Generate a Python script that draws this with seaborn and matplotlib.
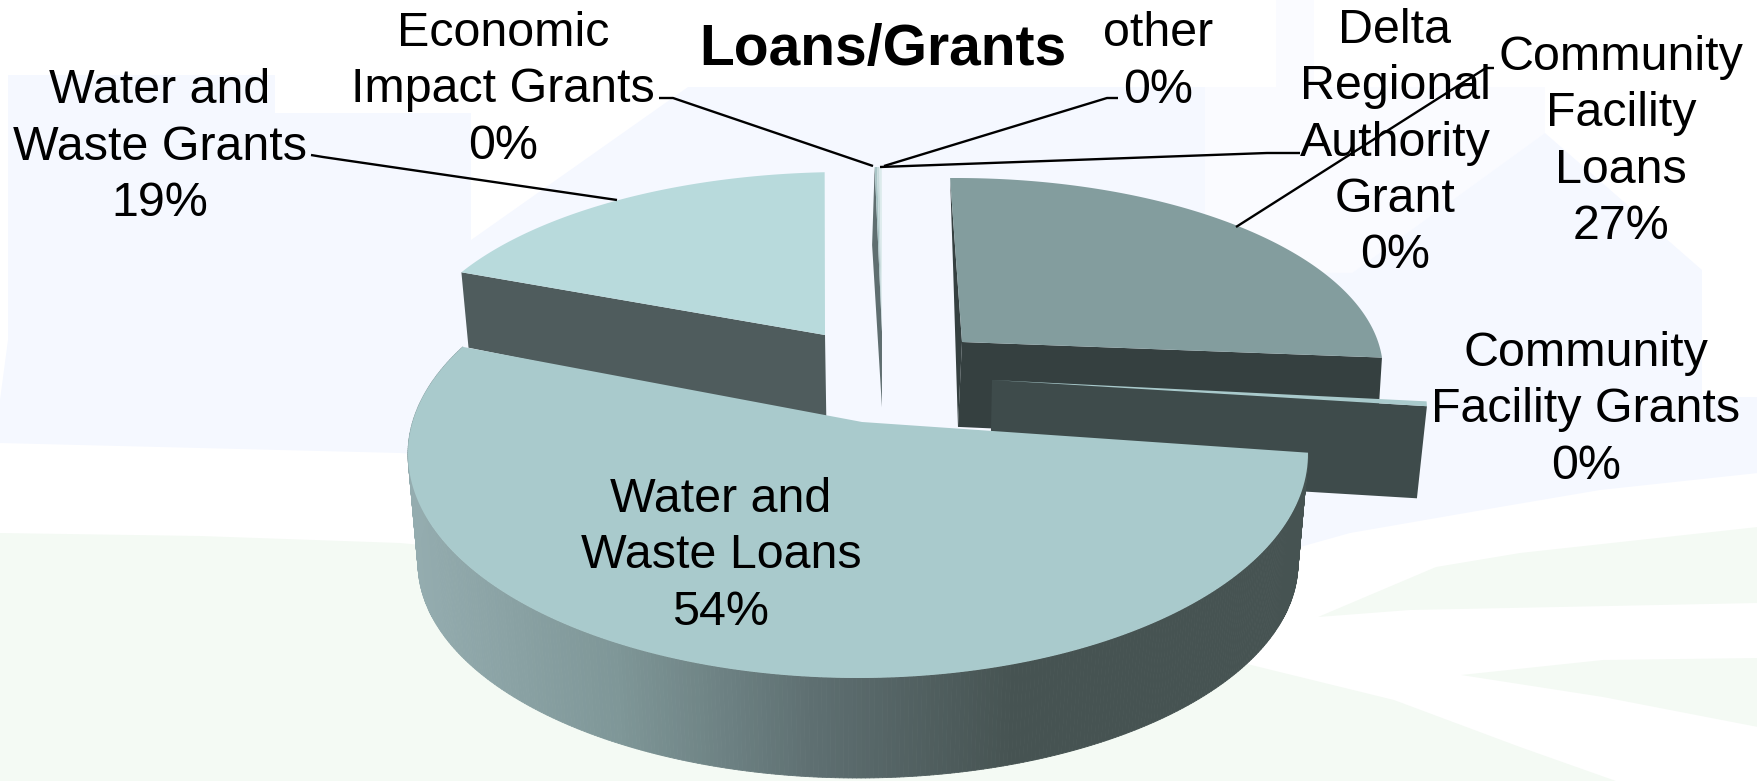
import numpy as np
import matplotlib
matplotlib.use("Agg")
import matplotlib.pyplot as plt
from matplotlib.collections import PolyCollection
import seaborn as sns

# ---- data (clockwise from 12 o'clock) ----
categories = ["Community\nFacility\nLoans", "Community\nFacility Grants", "Water and\nWaste Loans",
              "Water and\nWaste Grants", "Economic\nImpact Grants", "other", "Delta\nRegional\nAuthority\nGrant"]
values = [26.8, 0.4, 53.6, 18.9, 0.1, 0.1, 0.1]
title = "Loans/Grants"

# ---- layout / style ----
label_pos = [(1621, 142), (1586, 410), (721, 556), (160, 147), (503, 90), (1158, 62), (1395, 143)]
leaders = [
    [(1494, 68), (1486, 68), (1236, 227)],
    None,
    None,
    [(311, 155), (323, 157), (617, 200)],
    [(659, 98), (673, 98), (873, 166)],
    [(1118, 98), (1107, 98), (884, 166)],
    [(1300, 153), (1267, 153), (880, 167)],
]
# top ellipse (cx, cy, a, b), apex, lower ellipse, rotation of each
geom = {
    0: dict(top=(956, 371, 427, 193), apex=(962, 342), low=(952, 455, 425, 187), rot=-1.8, rot2=-0.7),
    1: dict(top=(997, 410, 430, 190), apex=(992, 380), low=(995, 502, 422, 186), rot=0, rot2=0),
    2: dict(top=(858, 454, 450, 224), apex=(862, 422), low=(858, 563, 440, 215), rot=0, rot2=0),
    3: dict(top=(846, 367, 440, 195), apex=(825, 335), low=(847, 457, 433, 225), rot=0.8, rot2=0.8),
    4: dict(top=(878, 357, 430, 190), apex=(882, 332), low=(878, 432, 425, 187), rot=0, rot2=-0.4),
}
top_col = ["#839D9E", "#A9CACC", "#A9CACC", "#B8DADC", "#A9C4C5", "#C6DADB", "#DCEBEC"]
BLUE, GREEN, FAINT = "#F5F8FF", "#F4FAF4", "#FAFBFF"

sns.set_theme(style="white")
plt.rcParams["font.family"] = ["Liberation Sans", "DejaVu Sans"]
wall_grad = sns.blend_palette(["#94ACAF", "#7F9798", "#5E6F71", "#465352"], 256)

fig = plt.figure(figsize=(17.58, 7.81), dpi=100)
ax = fig.add_axes([0, 0, 1, 1])
ax.set_xlim(0, 1758)
ax.set_ylim(781, 0)
ax.axis("off")

# ---- pale background shapes ----
bg = [
    (FAINT, [(1205, 87), (1545, 87), (1545, 133), (1352, 273), (1205, 270)]),
    (FAINT, [(1276, 0), (1314, 0), (1314, 87), (1276, 87)]),
    (BLUE, [(8, 75), (275, 75), (275, 113), (471, 113), (471, 240), (688, 87), (1205, 87), (1205, 270), (1352, 273),
            (1545, 133), (1702, 270), (1702, 397), (1758, 397), (1758, 473), (1600, 490), (1500, 507),
            (1350, 533), (1300, 547), (1100, 500), (400, 453), (0, 443), (0, 400), (8, 340)]),
    (GREEN, [(0, 533), (200, 536), (400, 543), (1000, 600), (1243, 663), (1394, 700), (1520, 747), (1616, 781), (0, 781)]),
    (GREEN, [(1318, 617), (1436, 567), (1520, 553), (1758, 527), (1758, 603), (1410, 610)]),
    (GREEN, [(1461, 675), (1603, 660), (1758, 658), (1758, 727), (1603, 697)]),
]
for col, pts in bg:
    p = np.array(pts)
    ax.fill(p[:, 0], p[:, 1], color=col, lw=0, zorder=0)


def boost(u, v, bx, by):
    """Projective map of the unit disk carrying its centre to (bx, by)."""
    beta = np.hypot(bx, by)
    nx, ny = bx / beta, by / beta
    par = u * nx + v * ny
    perx, pery = u - par * nx, v - par * ny
    den = 1 + beta * par
    k = np.sqrt(1 - beta ** 2) / den
    par2 = (par + beta) / den
    return par2 * nx + k * perx, par2 * ny + k * pery


def projector(g):
    cx, cy, a, b = g["top"]
    bx, by = (g["apex"][0] - cx) / a, (cy - g["apex"][1]) / b

    def rim(theta, lower=False):
        e = g["low"] if lower else g["top"]
        r = g["rot2"] if lower else g["rot"]
        t = np.radians(np.asarray(theta, dtype=float) + r)
        x, y = boost(np.sin(t), np.cos(t), bx, by)
        return np.column_stack([e[0] + e[2] * x, e[1] - e[3] * y])

    def apex(lower=False):
        e = g["low"] if lower else g["top"]
        return np.array([[e[0] + e[2] * bx, e[1] - e[3] * by]])

    return rim, apex


edges = np.concatenate([[0], np.cumsum(values)]) * 360.0 / np.sum(values)


def top_surface(i, g, z):
    rim, apex = projector(g)
    th = np.linspace(edges[i], edges[i + 1], 160)
    p = np.vstack([apex(), rim(th)])
    ax.fill(p[:, 0], p[:, 1], color=top_col[i], lw=0, zorder=z)


def face(theta, g, col, z):
    rim, apex = projector(g)
    p = np.vstack([apex(), rim([theta]), rim([theta], True), apex(True)])
    ax.fill(p[:, 0], p[:, 1], color=col, lw=0, zorder=z)


# Water and Waste Grants
face(edges[3], geom[3], "#4F5C5D", 2)
top_surface(3, geom[3], 3)

# three thin slivers at 12 o'clock
face(edges[4], geom[4], "#5F6E70", 2)
for i in (4, 5, 6):
    top_surface(i, geom[4], 3)

# Community Facility Loans
face(edges[0], geom[0], "#354040", 4)
face(edges[1], geom[0], "#354040", 4)
top_surface(0, geom[0], 5)

# Community Facility Grants
face(edges[2], geom[1], "#3E4B4B", 6)
top_surface(1, geom[1], 7)

# Water and Waste Loans: outer wall with gradient, then the top
g = geom[2]
rim, apex = projector(g)
th = np.linspace(edges[2], edges[3], 400)
up, lo = rim(th), rim(th, True)
polys, cols = [], []
for k in range(len(th) - 1):
    polys.append([up[k], up[k + 1], lo[k + 1], lo[k]])
    xm = 0.5 * (lo[k, 0] + lo[k + 1, 0])
    idx = int(np.clip((xm - 420) / (1010 - 420), 0, 1) * 255)
    cols.append(wall_grad[idx])
ax.add_collection(PolyCollection(polys, facecolors=cols, edgecolors=cols, linewidths=0.6, zorder=8))
top_surface(2, g, 9)

# leaders and labels
for pts in leaders:
    if pts:
        p = np.array(pts)
        ax.plot(p[:, 0], p[:, 1], color="black", lw=1.7, zorder=10, solid_capstyle="butt")

for name, v, (x, y) in zip(categories, values, label_pos):
    ax.text(x, y, f"{name}\n{v:.0f}%", ha="center", va="center", fontsize=34.8, color="black",
            linespacing=1.32, zorder=11)

ax.set_title(title, x=883 / 1758, y=1 - 50 / 781, va="center", fontsize=41, fontweight="bold",
             color="black", pad=0, zorder=11)

fig.savefig("out.png", dpi=100)
